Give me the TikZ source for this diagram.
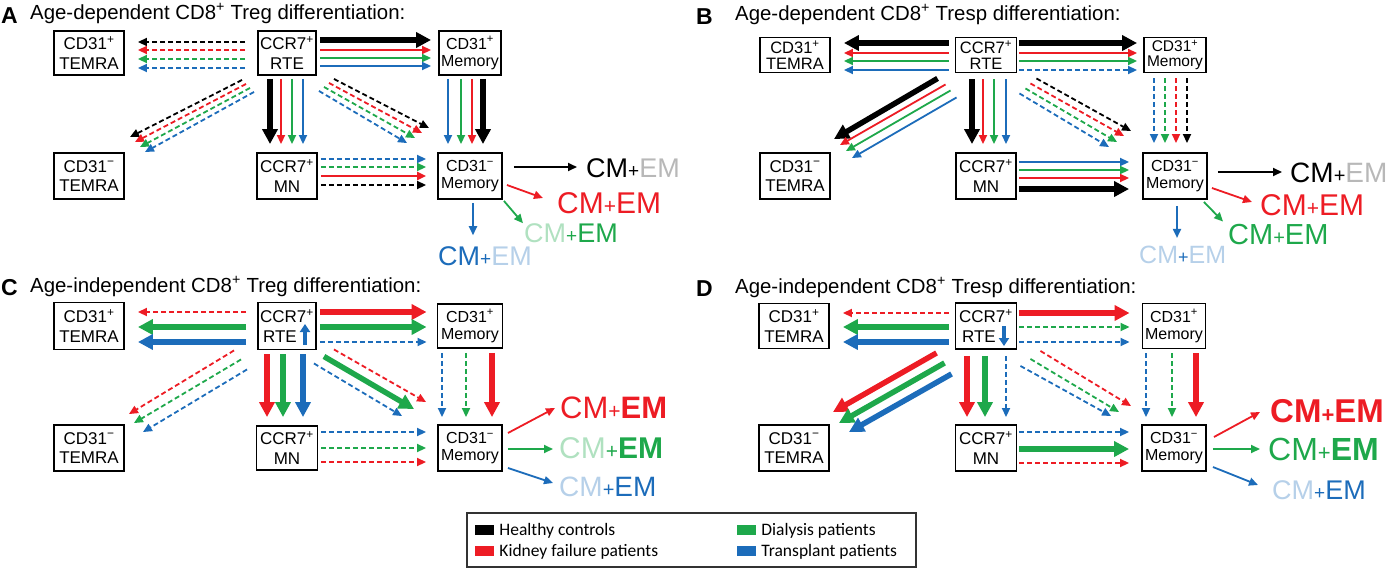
\documentclass[tikz,border=0pt]{standalone}
\usepackage{fontspec}
\setmainfont{Liberation Sans}
\newfontfamily\legendfont{Carlito}
\usetikzlibrary{arrows.meta,calc}

\definecolor{cred}{RGB}{237,28,36}
\definecolor{cgreen}{RGB}{30,168,75}
\definecolor{cblue}{RGB}{28,108,186}
\colorlet{fadek}{black!28}
\colorlet{fadeg}{cgreen!35}
\colorlet{fadeb}{cblue!32}

% small plus between CM and EM
\newcommand{\pls}[1]{{\fontsize{#1}{#1}\selectfont +}}

\tikzset{
    box/.style={draw, line width=1.9pt, inner sep=0pt, align=center, font=\fontsize{17}{19.5}\selectfont},
    mem/.style={box, font=\fontsize{16}{17}\selectfont},
    tightbox/.style={box, font=\fontsize{16.5}{15.5}\selectfont},
    tightmem/.style={box, font=\fontsize{15.5}{14.5}\selectfont},
    ttl/.style={anchor=base west, inner sep=0pt, font=\fontsize{20.4}{24}\selectfont},
    plabel/.style={anchor=base west, inner sep=0pt, font=\fontsize{23}{23}\selectfont\bfseries},
    outl/.style={anchor=west, inner sep=0pt},
    thinarr/.style={-{Triangle[length=9pt,width=8pt]}, line width=1.8pt},
    dasharr/.style={thinarr, dash pattern=on 5pt off 3pt},
    bigarr/.style={-{Triangle[length=15pt,width=15pt]}, line width=5.5pt},
    smallarr/.style={-{Triangle[length=8pt,width=10pt]}, line width=4pt, cblue},
    Kline/.style={thinarr, black}, Kdash/.style={dasharr, black}, Kbig/.style={bigarr, black},
    Rline/.style={thinarr, cred}, Rdash/.style={dasharr, cred}, Rbig/.style={bigarr, cred},
    Rmid/.style={Rline, line width=2.6pt},
    Gline/.style={thinarr, cgreen}, Gdash/.style={dasharr, cgreen}, Gbig/.style={bigarr, cgreen},
    Bline/.style={thinarr, cblue}, Bdash/.style={dasharr, cblue}, Bbig/.style={bigarr, cblue},
    swatch/.style={minimum width=19pt, minimum height=10pt, inner sep=0pt},
    lgtxt/.style={anchor=base west, inner sep=0pt, font=\legendfont\fontsize{17.5}{20}\selectfont},
}

\begin{document}
\begin{tikzpicture}[x=1pt, y=-1pt]
        \useasboundingbox (0,0) rectangle (1390,568);

        % ---------------- Panel A ----------------
        \node[plabel] (labA) at (1,23) {A};
        \node[ttl] (ttlA) at (30,19) {Age-dependent CD8\textsuperscript{+} Treg differentiation:};

        % Cell boxes
        \node[box, minimum width=70pt, minimum height=44pt] (tAp) at (89,53) {CD31\textsuperscript{+}\\TEMRA};
        \node[box, minimum width=58pt, minimum height=44pt] (rteA) at (287,53) {CCR7\textsuperscript{+}\\RTE};
        \node[mem, minimum width=62pt, minimum height=44pt] (mAp) at (470,53) {CD31\textsuperscript{+}\\Memory};
        \node[box, minimum width=70pt, minimum height=46pt] (tAm) at (89,176) {CD31\textsuperscript{−}\\TEMRA};
        \node[box, minimum width=60pt, minimum height=46pt] (mnA) at (287,176) {CCR7\textsuperscript{+}\\MN};
        \node[mem, minimum width=64pt, minimum height=46pt] (mAm) at (470,176) {CD31\textsuperscript{−}\\Memory};

        % RTE to CD31+ TEMRA
        \foreach \s/\d in {Kdash/-11,Rdash/-3,Gdash/6,Bdash/15}
            \draw[\s] ($(rteA.west)+(-12,\d)$) -- ($(tAp.east)+(13,\d)$);
        % RTE to CD31+ Memory
        \foreach \s/\d in {Kbig/-13,Rline/-3,Gline/5,Bline/13}
            \draw[\s] ($(rteA.east)+(3,\d)$) -- ($(mAp.west)+(-7,\d)$);
        % RTE to CD31- TEMRA
        \foreach \s/\xa/\ya/\xb/\yb in {Kdash/-15/4/5/-15,Rdash/-11/8/10/-10,Gdash/-7/12/15/-5,Bdash/-3/16/20/0}
            \draw[\s] ($(rteA.south west)+(\xa,\ya)$) -- ($(tAm.north east)+(\xb,\yb)$);
        % RTE to MN
        \foreach \s/\d in {Kbig/-17,Rline/-6,Gline/5,Bline/16}
            \draw[\s] ($(rteA.south)+(\d,3)$) -- ($(mnA.north)+(\d,-8)$);
        % RTE to CD31- Memory
        \foreach \s/\xa/\ya/\xb/\yb in {Kdash/17/3/-8/-24,Rdash/12/7/-15/-19,Gdash/7/11/-22/-14,Bdash/2/15/-30/-9}
            \draw[\s] ($(rteA.south east)+(\xa,\ya)$) -- ($(mAm.north west)+(\xb,\yb)$);
        % CD31+ Memory to CD31- Memory
        \foreach \s/\d in {Bline/-22,Gline/-9,Rline/2,Kbig/13}
            \draw[\s] ($(mAp.south)+(\d,3)$) -- ($(mAm.north)+(\d,-8)$);
        % MN to CD31- Memory
        \foreach \s/\d in {Bdash/-17,Gdash/-9,Rmid/0,Kdash/9}
            \draw[\s] ($(mnA.east)+(3,\d)$) -- ($(mAm.west)+(-11,\d)$);

        % Outputs
        \node[outl, text=black] (oAk) at (586,168) {\fontsize{27}{27}\selectfont CM\pls{19}\textcolor{fadek}{EM}};
        \node[outl, text=cred] (oAr) at (557,203) {\fontsize{30}{30}\selectfont CM\pls{21}EM};
        \node[outl, text=cgreen] (oAg) at (524,233) {\fontsize{27}{27}\selectfont \textcolor{fadeg}{CM}\pls{19}EM};
        \node[outl, text=cblue] (oAb) at (438,256) {\fontsize{27}{27}\selectfont CM\pls{19}\textcolor{fadeb}{EM}};
        \draw[Kline] ($(mAm.east)+(11,-9)$) -- ($(oAk.west)+(-9,-1)$);
        \draw[Rline] ($(mAm.east)+(4,9)$) -- ($(oAr.west)+(-14,-5)$);
        \draw[Gline] ($(mAm.south east)+(1,1)$) -- ($(oAg.north west)+(-1,0)$);
        \draw[Bline] ($(mAm.south)+(3,3)$) -- ($(oAb.north west)+(35,-11)$);

        % ---------------- Panel B ----------------
        \node[plabel] (labB) at (696,24) {B};
        \node[ttl] (ttlB) at (735,20) {Age-dependent CD8\textsuperscript{+} Tresp differentiation:};

        % Cell boxes
        \node[tightbox, minimum width=70pt, minimum height=35pt] (tBp) at (795,55) {CD31\textsuperscript{+}\\TEMRA};
        \node[tightbox, minimum width=61pt, minimum height=35pt] (rteB) at (986,55) {CCR7\textsuperscript{+}\\RTE};
        \node[tightmem, minimum width=62pt, minimum height=35pt] (mBp) at (1175,55) {CD31\textsuperscript{+}\\Memory};
        \node[box, minimum width=70pt, minimum height=46pt] (tBm) at (795,176) {CD31\textsuperscript{−}\\TEMRA};
        \node[box, minimum width=60pt, minimum height=46pt] (mnB) at (986,176) {CCR7\textsuperscript{+}\\MN};
        \node[mem, minimum width=64pt, minimum height=46pt] (mBm) at (1175,176) {CD31\textsuperscript{−}\\Memory};

        % RTE to CD31+ TEMRA
        \foreach \s/\d in {Kbig/-12,Rline/-2,Gline/6,Bline/15}
            \draw[\s] ($(rteB.west)+(-6,\d)$) -- ($(tBp.east)+(13,\d)$);
        % RTE to CD31+ Memory
        \foreach \s/\d in {Kbig/-12,Rline/-2,Gline/6,Bdash/15}
            \draw[\s] ($(rteB.east)+(2,\d)$) -- ($(mBp.west)+(-6,\d)$);
        % RTE to CD31- TEMRA
        \foreach \s/\xa/\ya/\xb/\yb in {Kbig/-17/5/3/-13,Rline/-9/11/9/-7,Gline/-4/17/15/-1,Bline/2/24/21/6}
            \draw[\s] ($(rteB.south west)+(\xa,\ya)$) -- ($(tBm.north east)+(\xb,\yb)$);
        % RTE to MN
        \foreach \s/\d in {Kbig/-14,Rline/-3,Gline/8,Bline/20}
            \draw[\s] ($(rteB.south)+(\d,6)$) -- ($(mnB.north)+(\d,-8)$);
        % RTE to CD31- Memory
        \foreach \s/\xa/\ya/\xb/\yb in {Kdash/19/5/-11/-21,Rdash/13/10/-18/-16,Gdash/8/15/-25/-10,Bdash/2/20/-33/-5}
            \draw[\s] ($(rteB.south east)+(\xa,\ya)$) -- ($(mBm.north west)+(\xb,\yb)$);
        % CD31+ Memory to CD31- Memory
        \foreach \s/\d in {Bdash/-21,Gdash/-10,Rdash/1,Kdash/12}
            \draw[\s] ($(mBp.south)+(\d,5)$) -- ($(mBm.north)+(\d,-9)$);
        % MN to CD31- Memory
        \foreach \s/\d in {Bline/-14,Gline/-6,Rline/2,Kbig/13}
            \draw[\s] ($(mnB.east)+(2,\d)$) -- ($(mBm.west)+(-13,\d)$);

        % Outputs
        \node[outl, text=black] (oBk) at (1290,173) {\fontsize{28}{28}\selectfont CM\pls{20}\textcolor{fadek}{EM}};
        \node[outl, text=cred] (oBr) at (1260,205) {\fontsize{30}{30}\selectfont CM\pls{21}EM};
        \node[outl, text=cgreen] (oBg) at (1228,235) {\fontsize{29}{29}\selectfont CM\pls{20}EM};
        \node[outl, text=cblue] (oBb) at (1139,255) {\fontsize{25}{25}\selectfont \textcolor{fadeb}{CM}\pls{18}\textcolor{fadeb}{EM}};
        \draw[Kline] ($(mBm.east)+(10,-4)$) -- ($(oBk.west)+(-8,-1)$);
        \draw[Rline] ($(mBm.east)+(4,12)$) -- ($(oBr.west)+(-8,-3)$);
        \draw[Gline] ($(mBm.south east)+(-4,2)$) -- ($(oBg.north west)+(-5,-3)$);
        \draw[Bline] ($(mBm.south)+(2,6)$) -- ($(oBb.north west)+(38,-8)$);

        % ---------------- Panel C ----------------
        \node[plabel] (labC) at (1,295) {C};
        \node[ttl] (ttlC) at (30,292) {Age-independent CD8\textsuperscript{+} Treg differentiation:};

        % Cell boxes
        \node[box, minimum width=70pt, minimum height=47pt] (tCp) at (89,326) {CD31\textsuperscript{+}\\TEMRA};
        \node[box, minimum width=58pt, minimum height=47pt] (rteC) at (287,326) {CCR7\textsuperscript{+}\\RTE\phantom{M}};
        \node[mem, minimum width=65pt, minimum height=44pt] (mCp) at (470,326) {CD31\textsuperscript{+}\\Memory};
        \node[box, minimum width=70pt, minimum height=46pt] (tCm) at (89,448) {CD31\textsuperscript{−}\\TEMRA};
        \node[box, minimum width=61pt, minimum height=44pt] (mnC) at (287,448) {CCR7\textsuperscript{+}\\MN};
        \node[mem, minimum width=64pt, minimum height=46pt] (mCm) at (470,448) {CD31\textsuperscript{−}\\Memory};

        % RTE to CD31+ TEMRA
        \foreach \s/\d in {Rdash/-14,Gbig/1,Bbig/16}
            \draw[\s] ($(rteC.west)+(-11,\d)$) -- ($(tCp.east)+(13,\d)$);
        % RTE to CD31+ Memory
        \foreach \s/\d in {Rbig/-14,Gbig/1,Bdash/16}
            \draw[\s] ($(rteC.east)+(3,\d)$) -- ($(mCp.west)+(-10,\d)$);
        % arrow inside RTE
        \draw[smallarr] ($(rteC)+(18,19)$) -- ($(rteC)+(18,-2)$);
        % RTE to CD31- TEMRA
        \foreach \s/\xa/\ya/\xb/\yb in {Rdash/-23/0/4/-10,Gdash/-16/9/9/-1,Bdash/-10/19/18/8}
            \draw[\s] ($(rteC.south west)+(\xa,\ya)$) -- ($(tCm.north east)+(\xb,\yb)$);
        % RTE to MN
        \foreach \s/\d in {Rbig/-20,Gbig/-4,Bbig/16}
            \draw[\s] ($(rteC.south)+(\d,4)$) -- ($(mnC.north)+(\d,-8)$);
        % RTE to CD31- Memory
        \foreach \s/\xa/\ya/\xb/\yb in {Rdash/17/-1/-11/-22,Gbig/7/6/-23/-15,Bdash/-3/13/-35/-8}
            \draw[\s] ($(rteC.south east)+(\xa,\ya)$) -- ($(mCm.north west)+(\xb,\yb)$);
        % CD31+ Memory to CD31- Memory
        \foreach \s/\d in {Bdash/-28,Gdash/-4,Rbig/22}
            \draw[\s] ($(mCp.south)+(\d,4)$) -- ($(mCm.north)+(\d,-7)$);
        % MN to CD31- Memory
        \foreach \s/\d in {Bdash/-16,Gdash/0,Rdash/14}
            \draw[\s] ($(mnC.east)+(3,\d)$) -- ($(mCm.west)+(-11,\d)$);

        % Outputs
        \node[outl, text=cred] (oCr) at (560,408) {\fontsize{31}{31}\selectfont CM\pls{21}\textbf{EM}};
        \node[outl, text=cgreen] (oCg) at (559,448) {\fontsize{30}{30}\selectfont \textcolor{fadeg}{CM}\pls{21}\textbf{EM}};
        \node[outl, text=cblue] (oCb) at (559,487) {\fontsize{28}{28}\selectfont \textcolor{fadeb}{CM}\pls{20}EM};
        \draw[Rline] ($(mCm.east)+(5,-15)$) -- ($(oCr.west)+(-5,0)$);
        \draw[Gline] ($(mCm.east)+(5,1)$) -- ($(oCg.west)+(-6,1)$);
        \draw[Bline] ($(mCm.east)+(5,20)$) -- ($(oCb.west)+(-6,-4)$);

        % ---------------- Panel D ----------------
        \node[plabel] (labD) at (696,296) {D};
        \node[ttl] (ttlD) at (735,293) {Age-independent CD8\textsuperscript{+} Tresp differentiation:};

        % Cell boxes
        \node[box, minimum width=70pt, minimum height=45pt] (tDp) at (794,326) {CD31\textsuperscript{+}\\TEMRA};
        \node[box, minimum width=61pt, minimum height=46pt] (rteD) at (986,326) {CCR7\textsuperscript{+}\\RTE\phantom{M}};
        \node[mem, minimum width=63pt, minimum height=45pt] (mDp) at (1174,326) {CD31\textsuperscript{+}\\Memory};
        \node[box, minimum width=70pt, minimum height=46pt] (tDm) at (794,448) {CD31\textsuperscript{−}\\TEMRA};
        \node[box, minimum width=61pt, minimum height=46pt] (mnD) at (986,448) {CCR7\textsuperscript{+}\\MN};
        \node[mem, minimum width=64pt, minimum height=46pt] (mDm) at (1174,448) {CD31\textsuperscript{−}\\Memory};

        % RTE to CD31+ TEMRA
        \foreach \s/\d in {Rdash/-13,Gbig/1,Bbig/16}
            \draw[\s] ($(rteD.west)+(-6,\d)$) -- ($(tDp.east)+(13,\d)$);
        % RTE to CD31+ Memory
        \foreach \s/\d in {Rbig/-13,Gdash/1,Bdash/16}
            \draw[\s] ($(rteD.east)+(2,\d)$) -- ($(mDp.west)+(-12,\d)$);
        % arrow inside RTE
        \draw[smallarr] ($(rteD)+(18,0)$) -- ($(rteD)+(18,20)$);
        % RTE to CD31- TEMRA
        \foreach \s/\xa/\ya/\xb/\yb in {Rbig/-18/3/3/-12,Gbig/-10/13/9/-1,Bbig/-3/24/19/8}
            \draw[\s] ($(rteD.south west)+(\xa,\ya)$) -- ($(tDm.north east)+(\xb,\yb)$);
        % RTE to MN
        \foreach \s/\d in {Rbig/-19,Gbig/-1,Bdash/20}
            \draw[\s] ($(rteD.south)+(\d,6)$) -- ($(mnD.north)+(\d,-7)$);
        % RTE to CD31- Memory
        \foreach \s/\xa/\ya/\xb/\yb in {Rdash/23/1/-10/-18,Gdash/13/9/-22/-12,Bdash/3/16/-30/-8}
            \draw[\s] ($(rteD.south east)+(\xa,\ya)$) -- ($(mDm.north west)+(\xb,\yb)$);
        % CD31+ Memory to CD31- Memory
        \foreach \s/\d in {Bdash/-28,Gdash/-2,Rbig/22}
            \draw[\s] ($(mDp.south)+(\d,4)$) -- ($(mDm.north)+(\d,-7)$);
        % MN to CD31- Memory
        \foreach \s/\d in {Bdash/-16,Gbig/1,Rdash/15}
            \draw[\s] ($(mnD.east)+(2,\d)$) -- ($(mDm.west)+(-12,\d)$);

        % Outputs
        \node[outl, text=cred] (oDr) at (1270,411) {\fontsize{33}{33}\selectfont\bfseries CM\pls{22}EM};
        \node[outl, text=cgreen] (oDg) at (1268,449) {\fontsize{32}{32}\selectfont CM\pls{22}\textbf{EM}};
        \node[outl, text=cblue] (oDb) at (1272,490) {\fontsize{27}{27}\selectfont \textcolor{fadeb}{CM}\pls{19}EM};
        \draw[Rline] ($(mDm.east)+(7,-11)$) -- ($(oDr.west)+(-10,1)$);
        \draw[Gline] ($(mDm.east)+(6,1)$) -- ($(oDg.west)+(-8,0)$);
        \draw[Bline] ($(mDm.east)+(6,19)$) -- ($(oDb.west)+(-14,-5)$);

        % ---------------- Legend ----------------
        \node[draw, line width=1.2pt, black!80, minimum width=449pt, minimum height=54pt, inner sep=0pt] (legend) at (691.5,540) {};
        \node[swatch, fill=black] (swK) at (484.5,530) {};
        \node[swatch, fill=cred] (swR) at (484.5,551) {};
        \node[swatch, fill=cgreen] (swG) at (746.5,530) {};
        \node[swatch, fill=cblue] (swB) at (746.5,551) {};
        \node[lgtxt] (lgK) at ($(swK.south east)+(5,0)$) {Healthy controls};
        \node[lgtxt] (lgR) at ($(swR.south east)+(5,0)$) {Kidney failure patients};
        \node[lgtxt] (lgG) at ($(swG.south east)+(5,0)$) {Dialysis patients};
        \node[lgtxt] (lgB) at ($(swB.south east)+(5,0)$) {Transplant patients};
\end{tikzpicture}
\end{document}
